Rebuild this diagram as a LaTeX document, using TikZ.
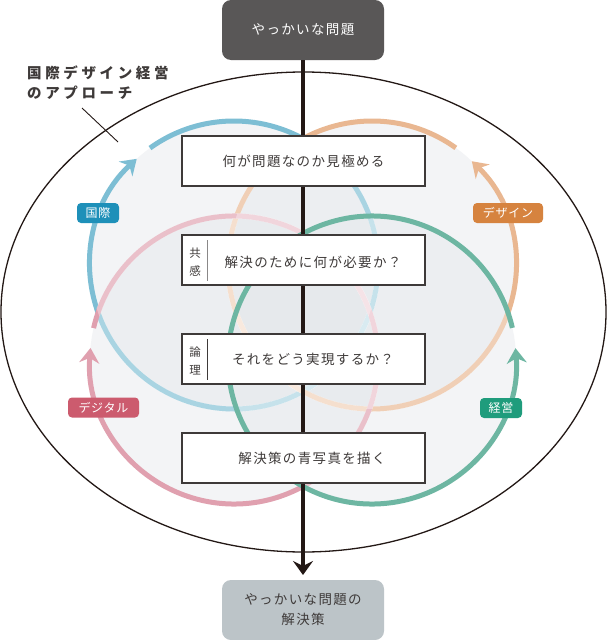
\documentclass[tikz,border=0pt]{standalone}
\usepackage{fontspec}
\setmainfont{Noto Sans CJK JP}
\newfontfamily\jp[LetterSpace=10]{Noto Sans CJK JP}
\newfontfamily\jph[LetterSpace=25]{Noto Sans CJK JP}
\newfontfamily\jpt[LetterSpace=6]{Noto Sans CJK JP}
\usetikzlibrary{arrows.meta}
\definecolor{ink}{HTML}{3E3A39}
\definecolor{lineblack}{HTML}{231815}
\definecolor{cblue}{HTML}{7DBED4}
\definecolor{corange}{HTML}{E9B791}
\definecolor{cpink}{HTML}{E0A0AF}
\definecolor{cgreen}{HTML}{6DB6A2}
\definecolor{tblue}{HTML}{1E90B9}
\definecolor{torange}{HTML}{D6833F}
\definecolor{tpink}{HTML}{CC5B6E}
\definecolor{tgreen}{HTML}{1F9C7C}
\definecolor{topbox}{HTML}{595757}
\definecolor{botbox}{HTML}{BCC4C8}
\definecolor{cfill}{HTML}{E4E7EB}
\definecolor{sepgray}{HTML}{8A8888}
\begin{document}
\begin{tikzpicture}[x=1pt,y=1pt,
  arcline/.style={line width=5pt},
  tipstyle/.style={-{Stealth[length=15pt,width=20pt,inset=5pt]}},
  fade/.style={draw=white,draw opacity=0.34,line width=5.6pt},
  cfillst/.style={fill=cfill,fill opacity=0.42,draw=none},
  stepbox/.style={draw=ink,line width=1.3pt,fill=white,minimum width=243pt,minimum height=50pt,inner sep=0pt},
  boxtxt/.style={text=ink,font=\jp\fontsize{13.5}{16}\selectfont,inner sep=0pt},
  sidetxt/.style={text=ink,font=\jpt\fontsize{11.5}{18}\selectfont,align=center,inner sep=0pt},
  tag/.style={rounded corners=4pt,minimum height=20pt,inner sep=0pt,text=white,font=\jpt\fontsize{12}{14}\selectfont},
  endbox/.style={rounded corners=9pt,minimum width=162pt,minimum height=60pt,inner sep=0pt,font=\jp\fontsize{13.5}{20}\selectfont,align=center}]
\useasboundingbox (0,0) rectangle (607,-640);
\fill[white] (0,0) rectangle (607,-640);

% big ellipse
\draw[line width=1.3pt,draw=lineblack,fill=white] (303.5,-312) ellipse [x radius=302.5, y radius=240];

% circle fills
\fill[cfillst] (234,-265) circle (144);
\fill[cfillst] (372,-265) circle (144);
\fill[cfillst] (234,-360) circle (144);
\fill[cfillst] (372,-360) circle (144);

% blue arc
\draw[arcline,cblue,tipstyle] (234,-265) ++(125.7:144) arc[start angle=125.7, end angle=-227.5, radius=144];
\begin{scope}\clip (372,-265) circle (144); \draw[fade] (234,-265) circle (144);\end{scope}
\begin{scope}\clip (234,-360) circle (144); \draw[fade] (234,-265) circle (144);\end{scope}
\begin{scope}\clip (372,-360) circle (144); \draw[fade] (234,-265) circle (144);\end{scope}

% orange arc
\draw[arcline,corange,tipstyle] (372,-265) ++(54.4:144) arc[start angle=54.4, end angle=406.1, radius=144];
\begin{scope}\clip (234,-265) circle (144); \draw[fade] (372,-265) circle (144);\end{scope}
\begin{scope}\clip (234,-360) circle (144); \draw[fade] (372,-265) circle (144);\end{scope}
\begin{scope}\clip (372,-360) circle (144); \draw[fade] (372,-265) circle (144);\end{scope}

% pink arc
\draw[arcline,cpink,tipstyle] (234,-360) ++(167.2:144) arc[start angle=167.2, end angle=-184.8, radius=144];
\begin{scope}\clip (234,-265) circle (144); \draw[fade] (234,-360) circle (144);\end{scope}
\begin{scope}\clip (372,-265) circle (144); \draw[fade] (234,-360) circle (144);\end{scope}
\begin{scope}\clip (372,-360) circle (144); \draw[fade] (234,-360) circle (144);\end{scope}

% green arc
\draw[arcline,cgreen,tipstyle] (372,-360) ++(12.9:144) arc[start angle=12.9, end angle=364.7, radius=144];

% end boxes
\node[endbox,fill=topbox,text=white] (top) at (303,-30) {やっかいな問題};
\node[endbox,fill=botbox,text=ink] (bot) at (303,-610) {やっかいな問題の\\解決策};

% main vertical arrow
\coordinate (tipc) at (303,-575);
\draw[line width=4.5pt,lineblack,-{Stealth[length=14pt,width=20pt,inset=5pt]}] (top.south) -- (tipc);

% step boxes
\node[stepbox,text=ink,font=\jp\fontsize{13.5}{16}\selectfont] (b1) at (303.5,-161) {何が問題なのか見極める};

\node[stepbox] (b2) at (303.5,-260) {};
\node[sidetxt] (s2) at (195,-262) {共\\感};
\draw[sepgray,line width=1.3pt] ([xshift=26pt,yshift=-6pt]b2.north west) -- ([xshift=26pt,yshift=5pt]b2.south west);
\node[boxtxt] (t2) at (313,-262) {解決のために何が必要か？};

\node[stepbox] (b3) at (303.5,-359) {};
\node[sidetxt] (s3) at (195,-361) {論\\理};
\draw[ink,line width=1.3pt] ([xshift=26pt,yshift=-6pt]b3.north west) -- ([xshift=26pt,yshift=5pt]b3.south west);
\node[boxtxt] (t3) at (313,-359) {それをどう実現するか？};

\node[stepbox] (b4) at (303.5,-458) {};
\node[boxtxt] (t4) at (312,-458) {解決策の青写真を描く};

% tags
\node[tag,fill=tblue,minimum width=42pt] (tg1) at (98,-213) {国際};
\node[tag,fill=torange,minimum width=70pt] (tg2) at (508,-213) {デザイン};
\node[tag,fill=tpink,minimum width=71pt] (tg3) at (103.5,-407.5) {デジタル};
\node[tag,fill=tgreen,minimum width=42pt] (tg4) at (501,-408) {経営};

% heading
\node[anchor=north west,inner sep=0pt,align=left,text=ink,font=\jph\bfseries\fontsize{14.5}{20}\selectfont] (head) at (27,-66) {国際デザイン経営\\のアプローチ};
\coordinate (l1) at (82,-108);
\coordinate (l2) at (118,-142);
\draw[lineblack,line width=0.9pt] (l1) -- (l2);
\end{tikzpicture}
\end{document}
